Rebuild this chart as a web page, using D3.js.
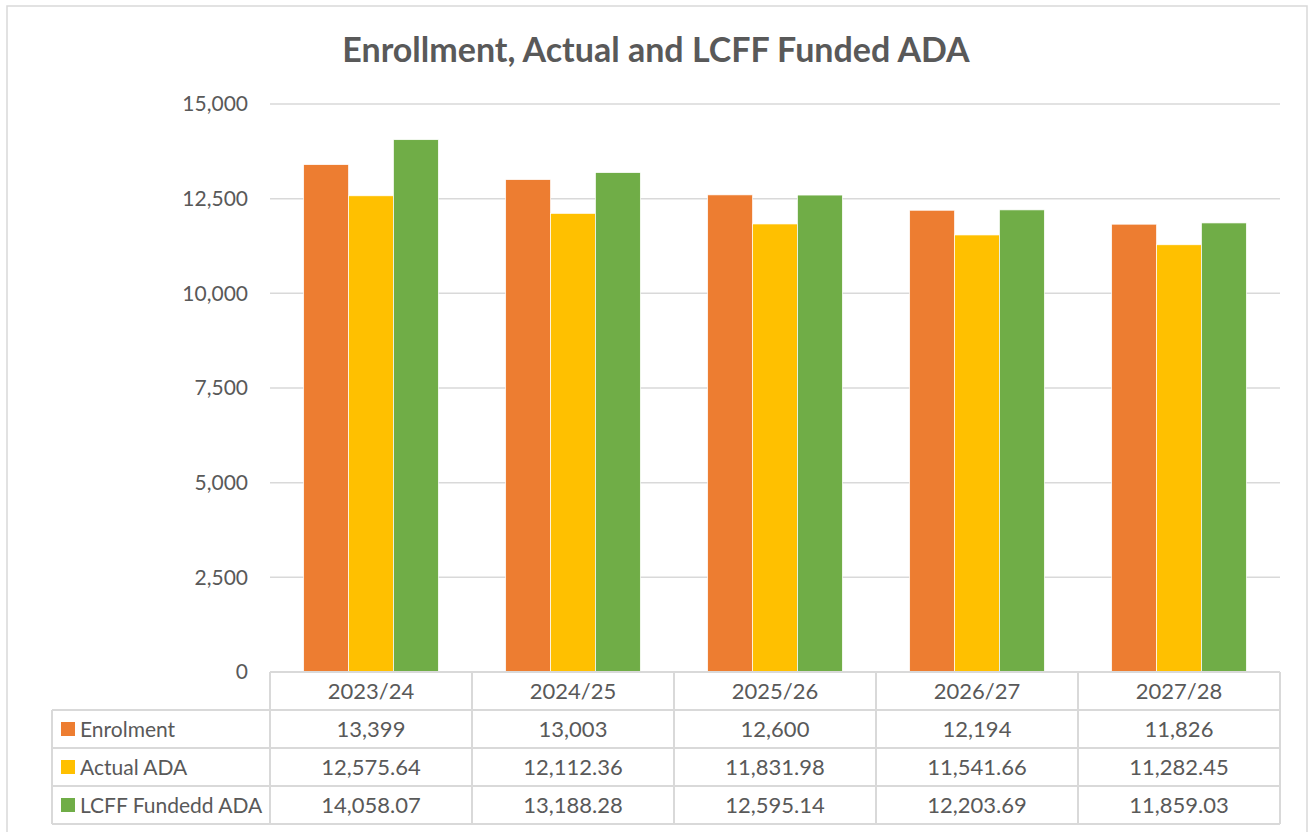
<!DOCTYPE html>
<html lang="en">
<head>
    <meta charset="UTF-8">
    <title>Enrollment, Actual and LCFF Funded ADA</title>
    <script src="https://d3js.org/d3.v7.min.js"></script>
    <style>
        body {
            margin: 0;
            background: #fff;
            font-family: Lato, "Open Sans", sans-serif;
        }
        .grid line {
            stroke: #d9d9d9;
            stroke-width: 1.5;
        }
        .tbl line {
            stroke: #d9d9d9;
            stroke-width: 2;
        }
        text {
            fill: #595959;
        }
    </style>
</head>
<body>
    <svg id="chart" width="1308" height="832"></svg>

    <script>
        const categories = ["2023/24", "2024/25", "2025/26", "2026/27", "2027/28"];
        const seriesNames = ["Enrolment", "Actual ADA", "LCFF Fundedd ADA"];
        const enrolment = [13399, 13003, 12600, 12194, 11826];
        const actualADA = [12575.64, 12112.36, 11831.98, 11541.66, 11282.45];
        const lcffADA = [14058.07, 13188.28, 12595.14, 12203.69, 11859.03];
        const yTicks = [0, 2500, 5000, 7500, 10000, 12500, 15000];
        const colors = ["#ed7d31", "#ffc000", "#70ad47"];

        const seriesValues = [enrolment, actualADA, lcffADA];
        const labels = [
            enrolment.map(d => d3.format(",")(d)),
            actualADA.map(d => d3.format(",.2f")(d)),
            lcffADA.map(d => d3.format(",.2f")(d))
        ];

        const plot = {left: 270, right: 1280, top: 104, bottom: 672};
        const tableLeft = 52, tableBottom = 824;

        const svg = d3.select("#chart");

        // chart border
        svg.append("rect")
            .attr("x", 7).attr("y", 6)
            .attr("width", 1300).attr("height", 840)
            .attr("fill", "none")
            .attr("stroke", "#d9d9d9")
            .attr("stroke-width", 1.5);

        svg.append("text")
            .attr("x", 656)
            .attr("y", 62)
            .attr("text-anchor", "middle")
            .style("font-size", "34px")
            .style("font-weight", "bold")
            .text("Enrollment, Actual and LCFF Funded ADA");

        const x = d3.scaleBand()
            .domain(categories)
            .range([plot.left, plot.right]);

        const xInner = d3.scaleBand()
            .domain(seriesNames)
            .range([0, x.bandwidth()])
            .paddingOuter(0.75);

        const y = d3.scaleLinear()
            .domain([0, 15000])
            .range([plot.bottom, plot.top]);

        // gridlines
        svg.append("g")
            .attr("class", "grid")
            .selectAll("line")
            .data(yTicks.filter(d => d > 0))
            .join("line")
            .attr("x1", plot.left).attr("x2", plot.right)
            .attr("y1", d => y(d)).attr("y2", d => y(d));

        // y axis labels
        const yAxis = svg.append("g")
            .attr("transform", `translate(${plot.left},0)`)
            .call(d3.axisLeft(y).tickValues(yTicks).tickFormat(d3.format(",")).tickSize(0).tickPadding(22));
        yAxis.select(".domain").remove();
        yAxis.selectAll("text")
            .style("font-size", "21px")
            .style("font-family", "Lato, sans-serif")
            .attr("fill", "#595959");

        // bars
        seriesNames.forEach((name, si) => {
            svg.append("g")
                .selectAll("rect")
                .data(categories)
                .join("rect")
                .attr("x", (c) => x(c) + xInner(name))
                .attr("width", xInner.bandwidth())
                .attr("y", (c, i) => y(seriesValues[si][i]))
                .attr("height", (c, i) => y(0) - y(seriesValues[si][i]))
                .attr("fill", colors[si])
                .attr("stroke", "#fff")
                .attr("stroke-width", 0.7);
        });

        // data table
        const rows = d3.scaleBand()
            .domain(["header"].concat(seriesNames))
            .range([plot.bottom, tableBottom]);

        const tbl = svg.append("g").attr("class", "tbl");

        tbl.append("line")
            .attr("x1", plot.left).attr("x2", plot.right)
            .attr("y1", plot.bottom).attr("y2", plot.bottom);

        seriesNames.forEach(name => {
            tbl.append("line")
                .attr("x1", tableLeft).attr("x2", plot.right)
                .attr("y1", rows(name)).attr("y2", rows(name));
        });
        tbl.append("line")
            .attr("x1", tableLeft).attr("x2", plot.right)
            .attr("y1", tableBottom).attr("y2", tableBottom);

        tbl.append("line")
            .attr("x1", tableLeft).attr("x2", tableLeft)
            .attr("y1", rows(seriesNames[0])).attr("y2", tableBottom);

        tbl.selectAll(".vline")
            .data(categories.concat(["end"]))
            .join("line")
            .attr("x1", (d, i) => plot.left + i * x.step())
            .attr("x2", (d, i) => plot.left + i * x.step())
            .attr("y1", plot.bottom).attr("y2", tableBottom);

        const cellFont = "22px";

        svg.append("g")
            .selectAll("text")
            .data(categories)
            .join("text")
            .attr("x", c => x(c) + x.bandwidth() / 2)
            .attr("y", rows("header") + rows.bandwidth() / 2 + 8)
            .attr("text-anchor", "middle")
            .style("font-size", cellFont)
            .text(c => c);

        seriesNames.forEach((name, si) => {
            const cy = rows(name) + rows.bandwidth() / 2;
            svg.append("rect")
                .attr("x", 61).attr("y", cy - 7)
                .attr("width", 14).attr("height", 14)
                .attr("fill", colors[si]);
            svg.append("text")
                .attr("x", 80).attr("y", cy + 8)
                .style("font-size", "21px")
                .text(name);
            svg.append("g")
                .selectAll("text")
                .data(categories)
                .join("text")
                .attr("x", c => x(c) + x.bandwidth() / 2)
                .attr("y", cy + 8)
                .attr("text-anchor", "middle")
                .style("font-size", cellFont)
                .text((c, i) => labels[si][i]);
        });
    </script>
</body>
</html>
